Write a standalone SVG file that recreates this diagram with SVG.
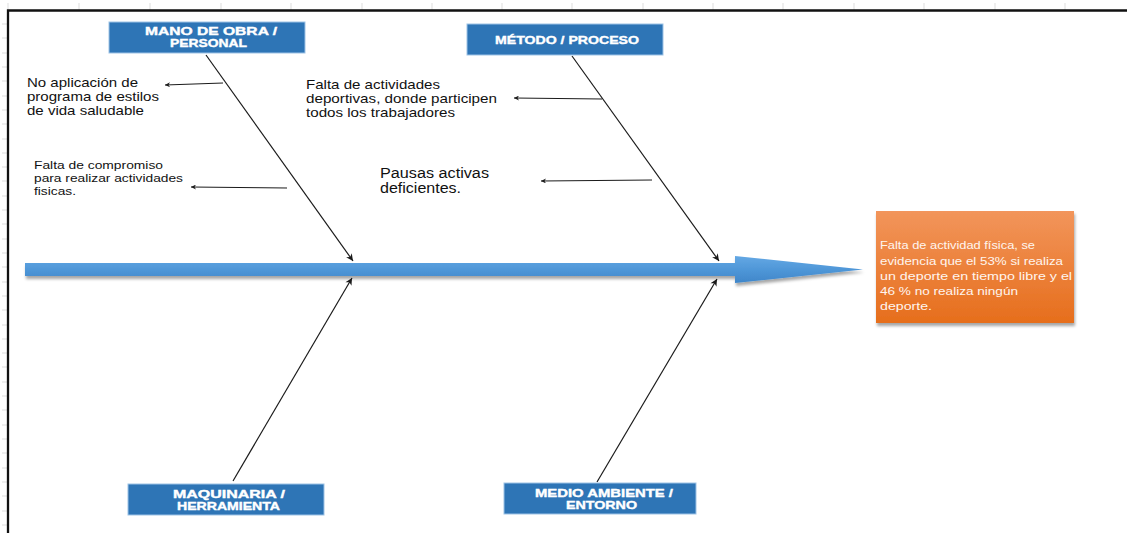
<svg xmlns="http://www.w3.org/2000/svg" width="1127" height="533" viewBox="0 0 1127 533">
  <style>
    .cat rect { fill: #2E75B6; stroke: #9DC3E6; stroke-width: 1; }
    .cat text { font-family: "Liberation Sans", Arial, sans-serif; font-weight: bold; font-size: 10px; fill: #ffffff; stroke: #ffffff; stroke-width: 0.35; text-anchor: start; }
    .cause { font-family: "Liberation Sans", Arial, sans-serif; font-size: 13px; fill: #111111; }
    .cause-sm { font-family: "Liberation Sans", Arial, sans-serif; font-size: 10px; fill: #111111; }
    .cause-lg { font-family: "Liberation Sans", Arial, sans-serif; font-size: 14px; fill: #111111; }
    .effect-text { font-family: "Liberation Sans", Arial, sans-serif; font-size: 11px; fill: #fff5ee; }
    .bone { stroke: #1a1a1a; stroke-width: 1.2; fill: none; marker-end: url(#tip); }
    .sub { stroke: #1a1a1a; stroke-width: 1; fill: none; marker-end: url(#tip-sm); }
    .tick { stroke: #dddddd; stroke-width: 1; }
  </style>
  <defs>
    <marker id="tip" viewBox="0 0 10 10" refX="10" refY="5" markerWidth="9" markerHeight="7" markerUnits="userSpaceOnUse" orient="auto">
      <path d="M0,0 L10,5 L0,10 L3,5 z" fill="#1a1a1a"/>
    </marker>
    <marker id="tip-sm" viewBox="0 0 10 10" refX="10" refY="5" markerWidth="9" markerHeight="5" markerUnits="userSpaceOnUse" orient="auto">
      <path d="M0,0 L10,5 L0,10 L3,5 z" fill="#1a1a1a"/>
    </marker>
    <linearGradient id="spineFill" x1="0" y1="0" x2="0" y2="1">
      <stop offset="0" stop-color="#64A8E4"/>
      <stop offset="0.5" stop-color="#4F97D8"/>
      <stop offset="1" stop-color="#3F86C9"/>
    </linearGradient>
    <linearGradient id="effectFill" x1="0" y1="0" x2="0" y2="1">
      <stop offset="0" stop-color="#F2955B"/>
      <stop offset="1" stop-color="#E66E1C"/>
    </linearGradient>
    <filter id="shadow" x="-10%" y="-30%" width="120%" height="170%">
      <feDropShadow dx="1" dy="3" stdDeviation="1.5" flood-color="#000000" flood-opacity="0.35"/>
    </filter>
  </defs>

  <rect x="0" y="0" width="1127" height="533" fill="#ffffff"/>

  <!-- sheet grid ticks and frame -->
  <g id="grid-ticks">
    <path class="tick" d="M8,3V10 M79,3V10 M150,3V10 M221,3V10 M291,3V10 M362,3V10 M432,3V10 M502,3V10 M572,3V10 M643,3V10 M713,3V10 M783,3V10 M854,3V10 M924,3V10 M995,3V10 M1065,3V10"/>
    <path class="tick" d="M2,24H7 M2,38H7 M2,53H7 M2,67H7 M2,81H7 M2,96H7 M2,110H7 M2,124H7 M2,139H7 M2,153H7 M2,167H7 M2,181H7 M2,196H7 M2,210H7 M2,224H7 M2,239H7 M2,253H7 M2,267H7 M2,282H7 M2,296H7 M2,310H7 M2,325H7 M2,339H7 M2,353H7 M2,367H7 M2,382H7 M2,396H7 M2,410H7 M2,425H7 M2,439H7 M2,453H7 M2,468H7 M2,482H7 M2,496H7 M2,511H7 M2,525H7"/>
  </g>
  <path id="frame" d="M8,533 V10.5 H1127" fill="none" stroke="#111111" stroke-width="2.3"/>

  <!-- main spine -->
  <g id="spine" filter="url(#shadow)">
    <path d="M25,263 H735 V256 L863,269.5 L735,283 V276 H25 z" fill="url(#spineFill)"/>
  </g>

  <!-- connectors -->
  <g id="connectors">
    <line class="bone" x1="206" y1="55" x2="353" y2="261"/>
    <line class="bone" x1="572" y1="56" x2="719" y2="261"/>
    <line class="bone" x1="233" y1="481" x2="352" y2="278"/>
    <line class="bone" x1="597" y1="482" x2="717" y2="279"/>
    <line class="sub" x1="223" y1="83" x2="165" y2="85"/>
    <line class="sub" x1="287" y1="188" x2="191" y2="187"/>
    <line class="sub" x1="602" y1="99" x2="514" y2="98"/>
    <line class="sub" x1="652" y1="180" x2="541" y2="181"/>
  </g>

  <!-- category nodes -->
  <g id="node-mano-de-obra" class="cat">
    <rect x="109" y="22" width="196" height="31"/>
    <text x="145" y="35" textLength="132" lengthAdjust="spacingAndGlyphs">MANO DE OBRA /</text>
    <text x="170" y="47" textLength="77" lengthAdjust="spacingAndGlyphs">PERSONAL</text>
  </g>
  <g id="node-metodo" class="cat">
    <rect x="467" y="24" width="196" height="31"/>
    <text x="495" y="44" textLength="144" lengthAdjust="spacingAndGlyphs">MÉTODO / PROCESO</text>
  </g>
  <g id="node-maquinaria" class="cat">
    <rect x="128" y="484" width="196" height="31"/>
    <text x="173" y="498" textLength="112" lengthAdjust="spacingAndGlyphs">MAQUINARIA /</text>
    <text x="177" y="510" textLength="103" lengthAdjust="spacingAndGlyphs">HERRAMIENTA</text>
  </g>
  <g id="node-medio-ambiente" class="cat">
    <rect x="504" y="483" width="192" height="31"/>
    <text x="535" y="497" textLength="138" lengthAdjust="spacingAndGlyphs">MEDIO AMBIENTE /</text>
    <text x="566" y="509" textLength="71" lengthAdjust="spacingAndGlyphs">ENTORNO</text>
  </g>

  <!-- causes -->
  <g id="cause-estilos-vida" class="cause">
    <text x="27" y="87" textLength="111" lengthAdjust="spacingAndGlyphs">No aplicación de</text>
    <text x="27" y="101" textLength="132" lengthAdjust="spacingAndGlyphs">programa de estilos</text>
    <text x="27" y="115" textLength="117" lengthAdjust="spacingAndGlyphs">de vida saludable</text>
  </g>
  <g id="cause-compromiso" class="cause-sm">
    <text x="34" y="169" textLength="129" lengthAdjust="spacingAndGlyphs">Falta de compromiso</text>
    <text x="34" y="182" textLength="149" lengthAdjust="spacingAndGlyphs">para realizar actividades</text>
    <text x="34" y="195" textLength="42" lengthAdjust="spacingAndGlyphs">fisicas.</text>
  </g>
  <g id="cause-actividades-deportivas" class="cause">
    <text x="306" y="89" textLength="134" lengthAdjust="spacingAndGlyphs">Falta de actividades</text>
    <text x="306" y="103" textLength="191" lengthAdjust="spacingAndGlyphs">deportivas, donde participen</text>
    <text x="306" y="117" textLength="149" lengthAdjust="spacingAndGlyphs">todos los trabajadores</text>
  </g>
  <g id="cause-pausas-activas" class="cause-lg">
    <text x="380" y="178" textLength="109" lengthAdjust="spacingAndGlyphs">Pausas activas</text>
    <text x="380" y="193" textLength="81" lengthAdjust="spacingAndGlyphs">deficientes.</text>
  </g>

  <!-- effect -->
  <g id="effect">
    <rect x="876" y="211" width="198" height="112" fill="url(#effectFill)" filter="url(#shadow)"/>
    <g class="effect-text">
      <text x="880" y="249" textLength="155" lengthAdjust="spacingAndGlyphs">Falta de actividad física, se</text>
      <text x="880" y="265" textLength="183" lengthAdjust="spacingAndGlyphs">evidencia que el 53% si realiza</text>
      <text x="880" y="280" textLength="192" lengthAdjust="spacingAndGlyphs">un deporte en tiempo libre y el</text>
      <text x="880" y="295" textLength="138" lengthAdjust="spacingAndGlyphs">46 % no realiza ningún</text>
      <text x="880" y="310" textLength="52" lengthAdjust="spacingAndGlyphs">deporte.</text>
    </g>
  </g>
</svg>
